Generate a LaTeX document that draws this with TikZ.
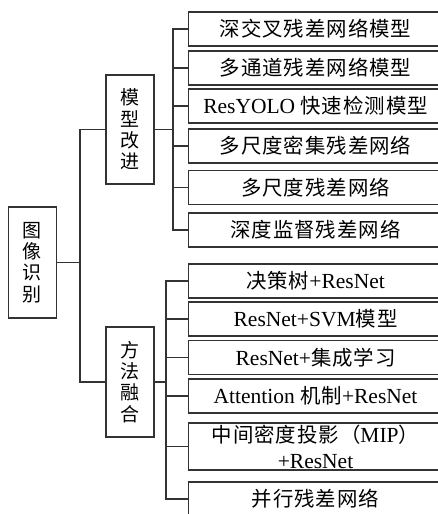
\documentclass[tikz,border=0pt]{standalone}
\usepackage{fontspec}
\setmainfont{Liberation Serif}
\newfontfamily\zhfont[Scale=0.95, LetterSpace=4.5]{Noto Sans CJK SC}
\newfontfamily\zhvfont[Scale=0.95]{Noto Sans CJK SC}
\newcommand{\zh}[1]{{\zhfont #1}}
\usetikzlibrary{positioning}

\begin{document}
\begin{tikzpicture}[x=1pt, y=-1pt]


\tikzstyle{box_style} = [draw=black!80, line width=1.1, anchor=west, minimum width=254, minimum height=34, inner sep=0pt, font=\fontsize{21.5}{26}\selectfont]

\tikzstyle{vbox_style} = [draw=black!80, line width=1.1, minimum width=48, minimum height=110, inner sep=0pt, align=center, font=\zhvfont\fontsize{20}{21.3}\selectfont]

\tikzstyle{edge_style} = [draw=black!80, line width=1.1]

\useasboundingbox (0,0) rectangle (438,514);
\clip (0,0) rectangle (438,514);

\node[vbox_style, minimum height=111] (root) at (32.5, 262.5) {图\\像\\识\\别};
\node[vbox_style, minimum height=109] (m1) at (130, 129.5) {模\\型\\改\\进};
\node[vbox_style] (m2) at (130, 382) {方\\法\\融\\合};

\node[box_style] (t1) at (188, 29) {\zh{深交叉残差网络模型}};
\node[box_style] (t2) at (188, 68) {\zh{多通道残差网络模型}};
\node[box_style] (t3) at (188, 106) {ResYOLO \zh{快速检测模型}};
\node[box_style] (t4) at (188, 146) {\zh{多尺度密集残差网络}};
\node[box_style] (t5) at (188, 187.5) {\zh{多尺度残差网络}};
\node[box_style] (t6) at (188, 230) {\zh{深度监督残差网络}};

\node[box_style] (b1) at (188, 281) {\zh{决策树}+ResNet};
\node[box_style] (b2) at (188, 319) {ResNet+SVM\zh{模型}};
\node[box_style] (b3) at (188, 357.5) {ResNet+\zh{集成学习}};
\node[box_style] (b4) at (188, 396) {Attention \zh{机制}+ResNet};
\node[box_style, minimum height=47, align=center] (b5) at (188, 446.5) {\zh{中间密度投影（}MIP\zh{）}\\+ResNet};
\node[box_style] (b6) at (188, 499) {\zh{并行残差网络}};

\coordinate (j0) at (80, 262.5);
\coordinate (j1) at (173, 129.5);
\coordinate (j2) at (166, 382);


\draw[edge_style]  (root.east) -- (j0) |- (m1.west);
\draw[edge_style]  (j0) |- (m2.west);

\draw[edge_style]  (m1.east) -- (j1);
\draw[edge_style]  (j1) |- (t1.west);
\draw[edge_style]  (j1) |- (t2.west);
\draw[edge_style]  (j1) |- (t3.west);
\draw[edge_style]  (j1) |- (t4.west);
\draw[edge_style]  (j1) |- (t5.west);
\draw[edge_style]  (j1) |- (t6.west);

\draw[edge_style]  (m2.east) -- (j2);
\draw[edge_style]  (j2) |- (b1.west);
\draw[edge_style]  (j2) |- (b2.west);
\draw[edge_style]  (j2) |- (b3.west);
\draw[edge_style]  (j2) |- (b4.west);
\draw[edge_style]  (j2) |- (b5.west);
\draw[edge_style]  (j2) |- (b6.west);


\end{tikzpicture}
\end{document}
